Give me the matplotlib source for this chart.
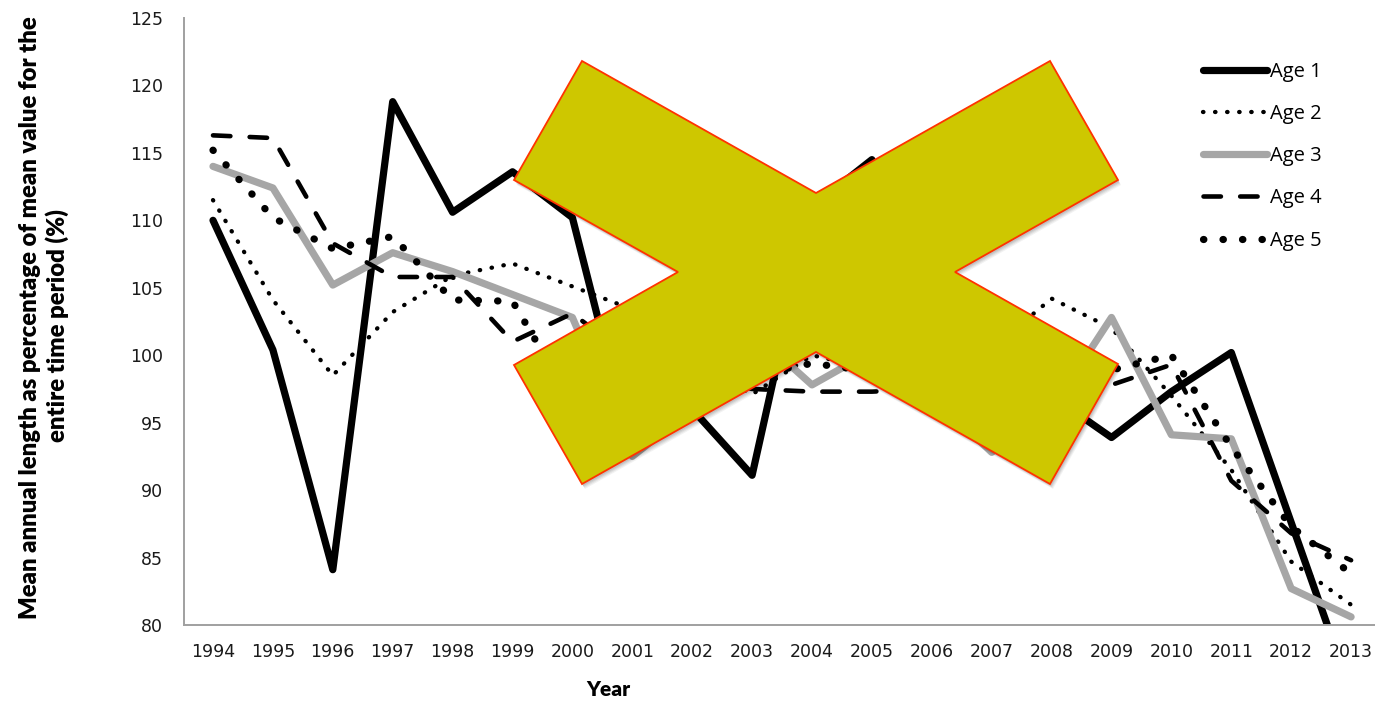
import matplotlib
matplotlib.use("Agg")
import matplotlib.pyplot as plt
from matplotlib.patches import Polygon
import numpy as np

# Annual mean length by age class, as % of the whole-period mean
years = [1994, 1995, 1996, 1997, 1998, 1999, 2000, 2001, 2002, 2003,
         2004, 2005, 2006, 2007, 2008, 2009, 2010, 2011, 2012, 2013]
age1 = [110.0, 100.4, 84.1, 118.8, 110.6, 113.6, 110.2, 92.7, 96.0, 91.1,
        111.0, 114.5, 105.5, 99.5, 97.0, 93.9, 97.3, 100.2, 87.6, 75.0]
age2 = [111.5, 104.1, 98.5, 103.2, 105.9, 106.8, 105.1, 103.4, 99.5, 97.1,
        100.0, 99.0, 98.0, 100.5, 104.2, 102.0, 97.0, 91.5, 84.7, 81.5]
age3 = [114.0, 112.4, 105.2, 107.6, 106.2, 104.5, 102.8, 92.5, 96.0, 101.8,
        97.8, 100.3, 97.0, 92.8, 96.0, 102.8, 94.1, 93.8, 82.7, 80.6]
age4 = [116.3, 116.1, 108.3, 105.8, 105.8, 101.0, 103.1, 99.7, 98.5, 97.5,
        97.3, 97.3, 97.5, 97.8, 98.0, 97.8, 99.3, 90.7, 86.8, 84.8]
age5 = [115.2, 110.2, 107.9, 108.8, 104.1, 104.0, 96.5, 97.0, 98.0, 98.5,
        99.4, 98.8, 98.5, 99.0, 98.5, 98.9, 100.0, 93.2, 87.3, 83.8]
series_labels = ["Age 1", "Age 2", "Age 3", "Age 4", "Age 5"]
y_ticks = [80, 85, 90, 95, 100, 105, 110, 115, 120, 125]
ylabel_lines = ["Mean annual length as percentage of mean value for the",
                "entire time period (%)"]
xlabel = "Year"

W, H = 1375, 701
fig = plt.figure(figsize=(W / 100, H / 100), dpi=100)
fig.patch.set_facecolor("white")

ax_left, ax_right, ax_top, ax_bottom = 184, W, 18, 625
ax = fig.add_axes([ax_left / W, 1 - ax_bottom / H,
                   (ax_right - ax_left) / W, (ax_bottom - ax_top) / H])

x = np.arange(len(years))
ax.plot(x, age1, color="black", lw=5.2, solid_joinstyle="round",
        solid_capstyle="round", label=series_labels[0])
ax.plot(x, age2, color="black", lw=3.1, linestyle=(0, (0.1, 2.7)),
        dash_capstyle="round", dash_joinstyle="round", label=series_labels[1])
ax.plot(x, age3, color="#A6A6A6", lw=5.2, solid_joinstyle="round",
        solid_capstyle="round", label=series_labels[2])
ax.plot(x, age4, color="black", lw=3.3, linestyle=(0, (3.8, 4.2)),
        dash_capstyle="round", dash_joinstyle="round", label=series_labels[3])
ax.plot(x, age5, color="black", lw=5.2, linestyle=(0, (0.05, 2.65)),
        dash_capstyle="round", dash_joinstyle="round", label=series_labels[4])

step = 59.9
x0 = -(213 - ax_left) / step
ax.set_xlim(x0, x0 + (ax_right - ax_left) / step)
ax.set_ylim(80, 125)
ax.set_xticks(x, labels=[str(y) for y in years])
ax.set_yticks(y_ticks)
ax.tick_params(axis="both", length=0, labelsize=12.5, colors="#1a1a1a")
ax.tick_params(axis="y", pad=15)
ax.tick_params(axis="x", pad=13)
for lab in ax.get_xticklabels() + ax.get_yticklabels():
    lab.set_family("DejaVu Sans")
for side in ("top", "right"):
    ax.spines[side].set_visible(False)
for side in ("left", "bottom"):
    ax.spines[side].set_color("#A0A0A0")
    ax.spines[side].set_linewidth(1.4)

leg = ax.legend(loc="upper left", bbox_to_anchor=(1203 / W, 1 - 62 / H),
                bbox_transform=fig.transFigure, frameon=False,
                prop={"family": ["Open Sans", "DejaVu Sans"], "size": 14.5},
                handlelength=3.2, handletextpad=0.12, labelspacing=1.1,
                borderpad=0, borderaxespad=0)

label_font = ["Lato", "DejaVu Sans"]
fig.text(608 / W, 1 - 690 / H, xlabel, ha="center", va="center",
         fontsize=15, fontweight="heavy", family=label_font)

# Two-line rotated axis title; size chosen so the first line spans the axis height
renderer = fig.canvas.get_renderer()
t1 = fig.text(30 / W, 1 - 317.5 / H, ylabel_lines[0], ha="center", va="center",
              rotation=90, fontsize=14, fontweight="heavy", family=label_font)
span = t1.get_window_extent(renderer).height
size = 14 * 603 / span
t1.set_fontsize(size)
fig.text(57 / W, 1 - 325 / H, ylabel_lines[1], ha="center", va="center",
         rotation=90, fontsize=size, fontweight="heavy", family=label_font)

# Cross overlay, vertices in pixel coordinates (origin top-left)
cross_px = [(582, 61), (816, 193), (1050, 61), (1118, 180), (955, 272),
            (1118, 364), (1050, 484), (816, 352), (582, 484), (514, 365),
            (678, 272), (514, 180)]


def to_fig(pts, dx=0.0, dy=0.0):
    return [((px + dx) / W, 1 - (py + dy) / H) for px, py in pts]


for i, a in enumerate([0.05, 0.06, 0.07, 0.08]):
    off = 5 - i
    fig.add_artist(Polygon(to_fig(cross_px, off * 0.6, off), closed=True,
                           transform=fig.transFigure, facecolor="black",
                           edgecolor="none", alpha=a, zorder=5))
fig.add_artist(Polygon(to_fig(cross_px), closed=True, transform=fig.transFigure,
                       facecolor="#CEC700", edgecolor="#FF3300", lw=1.3,
                       joinstyle="miter", zorder=6))

fig.savefig("out.png", dpi=100, facecolor="white")
